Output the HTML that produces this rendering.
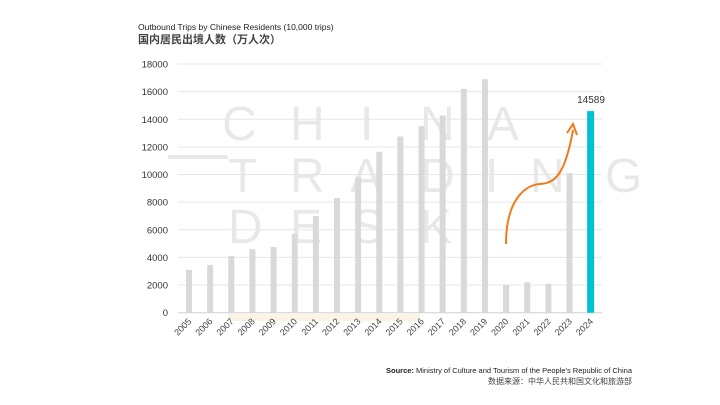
<!DOCTYPE html>
<html><head><meta charset="utf-8"><style>
body{margin:0;background:#fff;width:720px;height:405px;overflow:hidden;font-family:"Liberation Sans","Noto Sans CJK SC",sans-serif}
svg{position:absolute;left:0;top:0}
</style></head><body>
<svg width="720" height="405">
<text x="138" y="30" font-size="8.5" fill="#222">Outbound Trips by Chinese Residents (10,000 trips)</text>
<text x="138" y="43" font-size="11" font-weight="bold" fill="#444">国内居民出境人数（万人次）</text>
<g id="wm" font-size="48" fill="#000" fill-opacity="0.09" font-family="Liberation Sans,sans-serif">
<text x="222 290 360 420 487" y="140">CHINA</text>
<rect x="168" y="155" width="60" height="4"/>
<text x="228 290 350 420 485 530 605" y="192">TRADING</text>
<text x="228 290 352 420" y="243">DESK</text>
</g>
<rect x="228" y="314" width="192" height="7" fill="#faf3e6"/>
<g id="grid"></g><g id="bars"></g><g id="xl"></g>
<path d="M506,244 C506,200 525,185 540,184 C555,183 565,175 573,130" fill="none" stroke="#f07a1a" stroke-width="2"/>
<path d="M567,133 L573,124 L577,135" fill="none" stroke="#f07a1a" stroke-width="2"/>
<text x="591" y="103" font-size="10" fill="#333" text-anchor="middle">14589</text>
<text x="632" y="373" font-size="7.5" fill="#222" text-anchor="end"><tspan font-weight="bold">Source:</tspan> Ministry of Culture and Tourism of the People's Republic of China</text>
<text x="632" y="384" font-size="8" fill="#444" text-anchor="end">数据来源：中华人民共和国文化和旅游部</text>
</svg>
<script>
const years=["2005","2006","2007","2008","2009","2010","2011","2012","2013","2014","2015","2016","2017","2018","2019","2020","2021","2022","2023","2024"];
const trips=[3100,3450,4100,4600,4750,5700,7000,8300,9800,11650,12750,13500,14270,16200,16900,2030,2200,2100,10100,14589];
const yTicks=[0,2000,4000,6000,8000,10000,12000,14000,16000,18000];
const NS="http://www.w3.org/2000/svg";
const y=v=>312.7-v*248.7/18000;
const x=i=>189+i*21.14;
function mk(t,a,p){const e=document.createElementNS(NS,t);for(const k in a)e.setAttribute(k,a[k]);p.appendChild(e);return e;}
const g=document.getElementById('grid'),b=document.getElementById('bars'),xl=document.getElementById('xl');
yTicks.forEach(v=>{
 const l=mk('line',{x1:178,x2:602,y1:y(v),y2:y(v),stroke:v?'#e6e6e6':'#d0d0d0','stroke-width':1},g);
 
 
 const t=mk('text',{x:168,y:y(v)+3.5,'font-size':9.5,fill:'#333','text-anchor':'end'},g);t.textContent=v;
 
 
});
trips.forEach((v,i)=>{
 const last=i===trips.length-1,w=last?7:6;
 const r=mk('rect',{x:x(i)-w/2,y:y(v),width:w,height:y(0)-y(v),fill:last?'#00c1d4':'#d9d9d9'},b);
 
 
 const t=mk('text',{x:x(i)+3,y:322,'font-size':9,fill:'#444','text-anchor':'end',transform:`rotate(-45 ${x(i)+3} 322)`},xl);t.textContent=years[i];
 
 
});
</script>
</body></html>
